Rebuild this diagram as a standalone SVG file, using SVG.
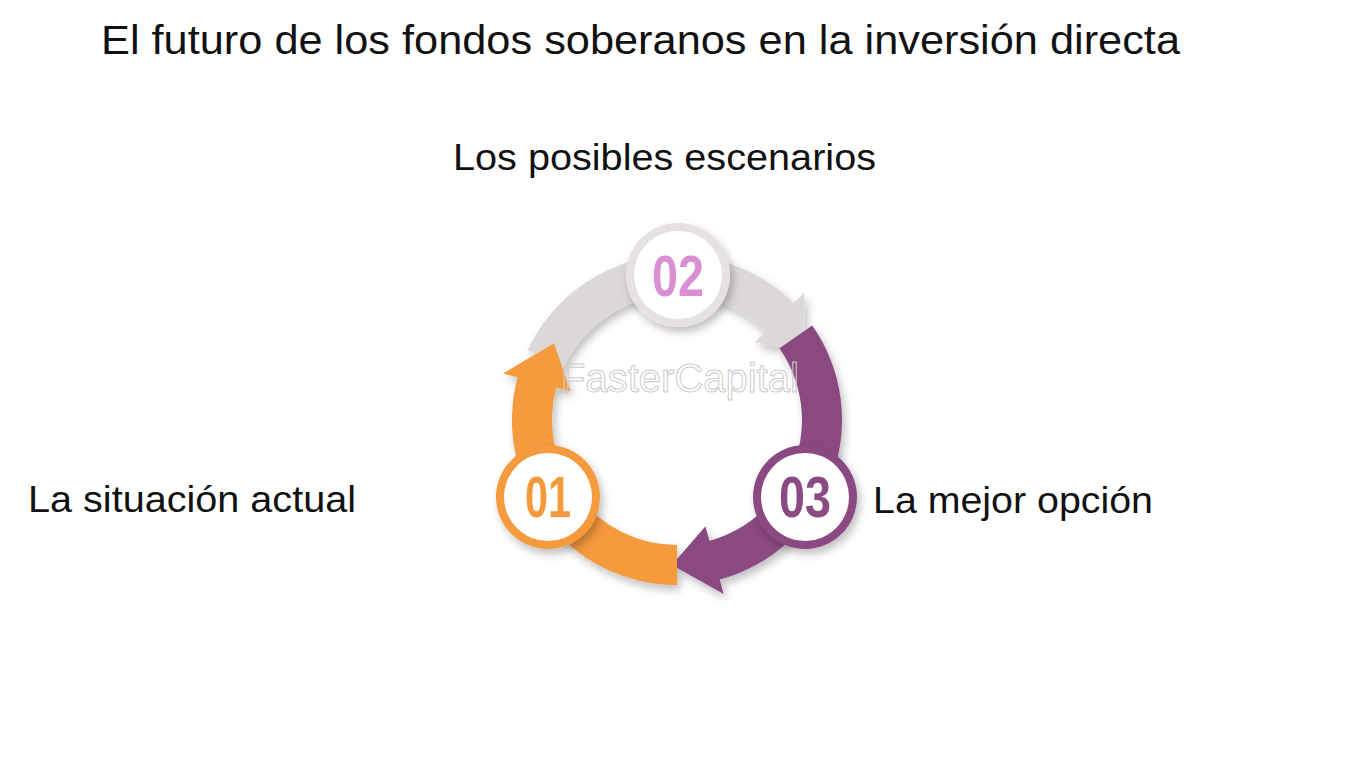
<svg xmlns="http://www.w3.org/2000/svg" width="1359" height="759" viewBox="0 0 1359 759">
<style>
.t{font-family:"Liberation Sans",Arial,sans-serif;fill:#111}
.n{font-family:"Liberation Sans",Arial,sans-serif;font-weight:bold;font-size:58px;text-anchor:middle}
</style>
<defs><filter id="sh" x="-30%" y="-30%" width="160%" height="160%"><feDropShadow dx="3" dy="5" stdDeviation="4" flood-color="#000" flood-opacity="0.25"/></filter></defs>
<rect width="1359" height="759" fill="#fff"/>
<text class="t" x="101" y="54" font-size="41" textLength="1079" lengthAdjust="spacingAndGlyphs">El futuro de los fondos soberanos en la inversión directa</text>
<g id="connectors" filter="url(#sh)">
<path fill="#DDD8D8" d="M527.5,350.3 A165,165 0 0 1 793.7,303.3 L804.3,292.7 L805,351.9 L754.8,342.2 L765.4,331.6 A125,125 0 0 0 563.7,367.2 Z"/>
<path fill="#8B4A82" d="M812.2,325.4 A165,165 0 0 1 719.7,579.4 L723.6,593.9 L671.9,564.9 L705.5,526.2 L709.4,540.7 A125,125 0 0 0 779.4,348.3 Z"/>
<path fill="#F59A3C" d="M677,585 A165,165 0 0 1 517.6,377.3 L503.1,373.4 L554,343.2 L570.7,391.5 L556.3,387.6 A125,125 0 0 0 677,545 Z"/>
</g>
<text x="680" y="392" font-family="Liberation Sans,Arial,sans-serif" font-size="40" text-anchor="middle" fill="none" stroke="#ccc" stroke-width="1">FasterCapital</text>
<g id="n01"><circle cx="548" cy="497" r="52" fill="#F59A3C" filter="url(#sh)"/><circle cx="548" cy="497" r="44" fill="#fff"/><text class="n" x="548" y="517" fill="#F59A3C" textLength="46" lengthAdjust="spacingAndGlyphs">01</text></g>
<g id="n02"><circle cx="678" cy="275" r="52" fill="#E6E2E2" filter="url(#sh)"/><circle cx="678" cy="275" r="44" fill="#fff"/><text class="n" x="678" y="296" fill="#D98FD2" textLength="52" lengthAdjust="spacingAndGlyphs">02</text></g>
<g id="n03"><circle cx="805" cy="497" r="52" fill="#8B4A82" filter="url(#sh)"/><circle cx="805" cy="497" r="44" fill="#fff"/><text class="n" x="805" y="517" fill="#8B4A82" textLength="52" lengthAdjust="spacingAndGlyphs">03</text></g>
<text class="t" x="453" y="170" font-size="36" textLength="423" lengthAdjust="spacingAndGlyphs">Los posibles escenarios</text>
<text class="t" x="28" y="512" font-size="36" textLength="328" lengthAdjust="spacingAndGlyphs">La situación actual</text>
<text class="t" x="873" y="513" font-size="36" textLength="280" lengthAdjust="spacingAndGlyphs">La mejor opción</text>
</svg>
